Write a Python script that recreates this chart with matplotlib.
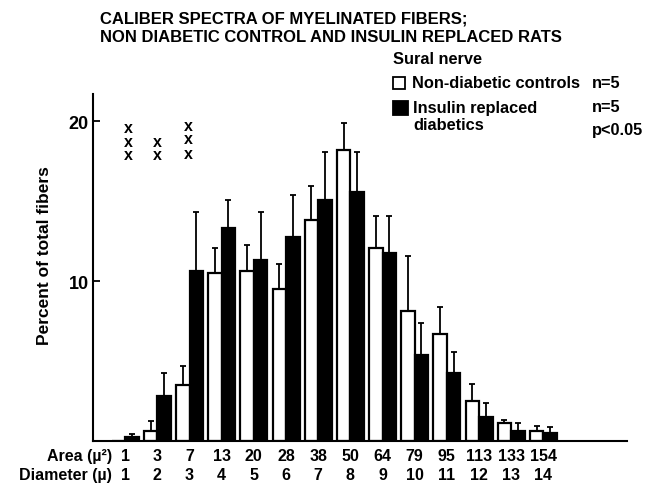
import matplotlib.pyplot as plt
from matplotlib.patches import Rectangle
import matplotlib.transforms as mtransforms
import numpy as np

plt.rcParams['font.family'] = ['Liberation Sans', 'DejaVu Sans']
plt.rcParams['font.weight'] = 'bold'

area = [1, 3, 7, 13, 20, 28, 38, 50, 64, 79, 95, 113, 133, 154]
diameter = [1, 2, 3, 4, 5, 6, 7, 8, 9, 10, 11, 12, 13, 14]
control = [0, 0.6, 3.5, 10.5, 10.6, 9.5, 13.8, 18.2, 12.05, 8.1, 6.7, 2.5, 1.1, 0.6]
control_err = [0, 0.65, 1.2, 1.55, 1.65, 1.6, 2.15, 1.7, 2.05, 3.5, 1.7, 1.05, 0.2, 0.35]
insulin = [0.25, 2.8, 10.6, 13.3, 11.3, 12.75, 15.1, 15.6, 11.75, 5.4, 4.25, 1.5, 0.6, 0.5]
insulin_err = [0.2, 1.45, 3.7, 1.8, 3.0, 2.65, 3.0, 2.5, 2.35, 2.0, 1.3, 0.9, 0.5, 0.4]

# significance crosses: (group position, y)
sig_x = [1.1, 1.1, 1.1, 2.0, 2.0, 2.95, 2.95, 2.95]
sig_y = [17.9, 18.75, 19.6, 17.9, 18.75, 18.0, 18.9, 19.75]

H = 485.0
W = 648.0

fig = plt.figure(figsize=(6.48, 4.85), dpi=100)
ax = fig.add_axes([93 / W, 1 - 442 / H, 534 / W, 347 / H])

x = np.arange(1, len(area) + 1)
w = 0.42
ax.bar(x - w / 2, control, w, color='white', edgecolor='black', linewidth=1.6,
       yerr=[np.zeros(len(x)), control_err], capsize=2.5,
       error_kw=dict(elinewidth=1.3, capthick=1.3, ecolor='black'))
ax.bar(x + w / 2, insulin, w, color='black', edgecolor='black', linewidth=1.6,
       yerr=[np.zeros(len(x)), insulin_err], capsize=2.5,
       error_kw=dict(elinewidth=1.3, capthick=1.3, ecolor='black'))

for sx, sy in zip(sig_x, sig_y):
    ax.text(sx, sy, 'x', ha='center', va='center', fontsize=11.5, fontweight='bold')

ax.set_xlim(0, 16.6)
ax.set_ylim(0, 21.7)
ax.set_yticks([10, 20])
ax.set_yticklabels(['10', '20'], fontsize=13, fontweight='bold')
ax.tick_params(axis='y', direction='in', length=5, width=1.3, pad=3)
ax.set_xticks([])
for s in ['top', 'right']:
    ax.spines[s].set_visible(False)
ax.spines['left'].set_linewidth(1.5)
ax.spines['bottom'].set_linewidth(1.5)
fig.text(45 / W, 1 - 256 / H, 'Percent of total fibers', rotation=90,
         ha='center', va='center', fontsize=12.5, fontweight='bold')

trans = mtransforms.blended_transform_factory(ax.transData, fig.transFigure)
for xi, a, d in zip(x, area, diameter):
    ax.text(xi, 1 - 457 / H, str(a), transform=trans, ha='center', va='center',
            fontsize=11.5, fontweight='bold')
    ax.text(xi, 1 - 476 / H, str(d), transform=trans, ha='center', va='center',
            fontsize=11.5, fontweight='bold')
fig.text(112 / W, 1 - 457 / H, 'Area (µ²)', ha='right', va='center',
         fontsize=11.5, fontweight='bold')
fig.text(112 / W, 1 - 476 / H, 'Diameter (µ)', ha='right', va='center',
         fontsize=11.5, fontweight='bold')

fig.text(100 / W, 1 - 19 / H, 'CALIBER SPECTRA OF MYELINATED FIBERS;',
         ha='left', va='center', fontsize=12, fontweight='bold')
fig.text(100 / W, 1 - 37 / H, 'NON DIABETIC CONTROL AND INSULIN REPLACED RATS',
         ha='left', va='center', fontsize=12, fontweight='bold')

# legend block
fig.text(393 / W, 1 - 59 / H, 'Sural nerve', ha='left', va='center',
         fontsize=11.8, fontweight='bold')
fig.patches.append(Rectangle((393 / W, 1 - 90 / H), 12 / W, 12 / H,
                             transform=fig.transFigure, facecolor='white',
                             edgecolor='black', linewidth=1.3))
fig.patches.append(Rectangle((393 / W, 1 - 116 / H), 15 / W, 14 / H,
                             transform=fig.transFigure, facecolor='black',
                             edgecolor='black', linewidth=1.3))
fig.text(412 / W, 1 - 83 / H, 'Non-diabetic controls', ha='left',
         va='center', fontsize=11.8, fontweight='bold')
fig.text(592 / W, 1 - 83 / H, 'n=5', ha='left', va='center',
         fontsize=11.8, fontweight='bold')
fig.text(413 / W, 1 - 108 / H, 'Insulin replaced', ha='left',
         va='center', fontsize=11.8, fontweight='bold')
fig.text(413 / W, 1 - 125 / H, 'diabetics', ha='left',
         va='center', fontsize=11.8, fontweight='bold')
fig.text(592 / W, 1 - 108 / H, 'n=5', ha='left', va='center',
         fontsize=11.8, fontweight='bold')
fig.text(592 / W, 1 - 131 / H, 'p<0.05', ha='left', va='center',
         fontsize=11.8, fontweight='bold')

plt.savefig('out.png', dpi=100)
